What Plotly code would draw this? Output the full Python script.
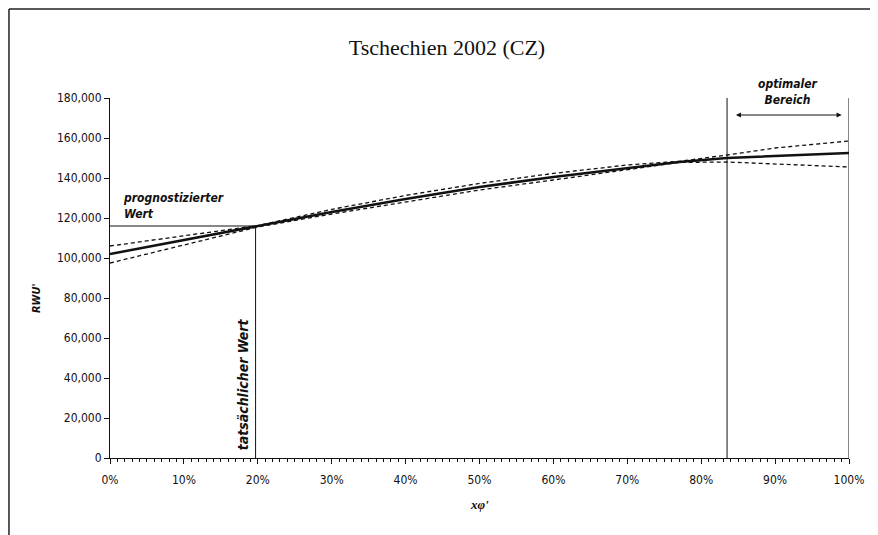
import plotly.graph_objects as go

# share of x (0..1) and RWU values
x_share = [0, 0.05, 0.10, 0.15, 0.20, 0.30, 0.40, 0.50, 0.60, 0.70, 0.77, 0.835, 0.90, 1.00]
rwu_mid = [102000, 105500, 109000, 112500, 116000, 123000, 129500, 135500, 140500, 145000, 148000, 150000, 151000, 152500]
rwu_upper = [106000, 108500, 111000, 113500, 116200, 124300, 131300, 137300, 142300, 146500, 148300, 151500, 155000, 158500]
rwu_lower = [97500, 102000, 106500, 111000, 115500, 122000, 128000, 134000, 139000, 144000, 147800, 148000, 147000, 145500]

actual_x = 0.197
predicted_y = 116000
optimum_from = 0.835
optimum_to = 1.0

y_ticks = [0, 20000, 40000, 60000, 80000, 100000, 120000, 140000, 160000, 180000]

TICK_FONT = dict(family="DejaVu Sans Condensed, Liberation Sans Narrow, sans-serif", size=12, color="#111")
NOTE_FONT = "DejaVu Sans Condensed, DejaVu Sans, sans-serif"

fig = go.Figure()

for ys in (rwu_upper, rwu_lower):
    fig.add_trace(go.Scatter(x=x_share, y=ys, mode="lines",
                             line=dict(color="#111", width=1.3, dash="4px,3px")))
fig.add_trace(go.Scatter(x=x_share, y=rwu_mid, mode="lines",
                         line=dict(color="#111", width=2.6)))

# marker lines: actual value and predicted value
fig.add_trace(go.Scatter(x=[actual_x, actual_x], y=[0, predicted_y], mode="lines",
                         line=dict(color="#111", width=1)))
fig.add_trace(go.Scatter(x=[0, actual_x], y=[predicted_y, predicted_y], mode="lines",
                         line=dict(color="#111", width=1)))
# optimal range boundaries
for xb in (optimum_from, optimum_to):
    fig.add_trace(go.Scatter(x=[xb, xb], y=[0, 180000], mode="lines",
                             line=dict(color="#111", width=1)))

# double arrow for the optimal range
fig.add_annotation(x=0.99, y=171500, ax=0.845, ay=171500, xref="x", yref="y",
                   axref="x", ayref="y", text="", showarrow=True,
                   arrowhead=2, startarrowhead=2, arrowside="end+start",
                   arrowsize=1, arrowwidth=1, arrowcolor="#111")
fig.add_annotation(x=(optimum_from + optimum_to) / 2, y=1.064, xref="x", yref="paper",
                   text="<b><i>optimaler</i></b><br><b><i>Bereich</i></b>", showarrow=False,
                   font=dict(family=NOTE_FONT, size=12, color="#111"), yanchor="top",
                   align="center")
fig.add_annotation(x=0.015, y=117500, xref="x", yref="y", xanchor="left", yanchor="bottom",
                   text="<b><i>prognostizierter</i></b><br><b><i>Wert</i></b>", showarrow=False,
                   align="left", font=dict(family=NOTE_FONT, size=12, color="#111"))
fig.add_annotation(x=actual_x - 0.003, y=3000, xref="x", yref="y", xanchor="right",
                   yanchor="bottom", text="<b><i>tatsächlicher Wert</i></b>", showarrow=False,
                   textangle=-90, font=dict(family=NOTE_FONT, size=14, color="#111"))

# axis titles
fig.add_annotation(x=-0.11, y=0.445, xref="paper", yref="paper", text="<b><i>RWU'</i></b>",
                   showarrow=False, textangle=-90,
                   font=dict(family=NOTE_FONT, size=11, color="#111"))
fig.add_annotation(x=0.5, y=-0.155, xref="paper", yref="paper", text="<b><i>xφ'</i></b>",
                   showarrow=False, font=dict(family="Liberation Serif, serif", size=13, color="#111"))

# frame lines of the scanned page
fig.add_shape(type="line", xref="paper", yref="paper", x0=-0.1367, x1=1.04, y0=1.247, y1=1.247,
              line=dict(color="#222", width=1.5))
fig.add_shape(type="line", xref="paper", yref="paper", x0=-0.1367, x1=-0.1367, y0=1.247, y1=-0.22,
              line=dict(color="#222", width=1.5))

# page body adds an 8px margin, so the figure is 8px smaller and margins shift by 8
fig.update_layout(
    width=870, height=527,
    margin=dict(l=102, r=29, t=90, b=77),
    paper_bgcolor="white", plot_bgcolor="white",
    showlegend=False,
    title=dict(text="Tschechien 2002 (CZ)", x=439 / 870, xref="container", xanchor="center",
               y=1 - 39 / 527, yanchor="middle",
               font=dict(family="Liberation Serif, Times New Roman, serif", size=22, color="#111")),
)
fig.update_xaxes(range=[0, 1], tickvals=[i / 10 for i in range(11)], tickformat=".0%",
                 showgrid=False, zeroline=False, showline=True, linecolor="#111", linewidth=1,
                 ticks="outside", ticklen=5, tickcolor="#111", tickfont=TICK_FONT,
                 ticklabelstandoff=6,
                 minor=dict(dtick=0.01, ticks="outside", ticklen=3, tickcolor="#111", showgrid=False))
fig.update_yaxes(range=[0, 180000], tickvals=y_ticks, tickformat=",",
                 showgrid=False, zeroline=False, showline=True, linecolor="#111", linewidth=1,
                 ticks="outside", ticklen=5, tickcolor="#111", tickfont=TICK_FONT)

fig.write_html("out.html")
